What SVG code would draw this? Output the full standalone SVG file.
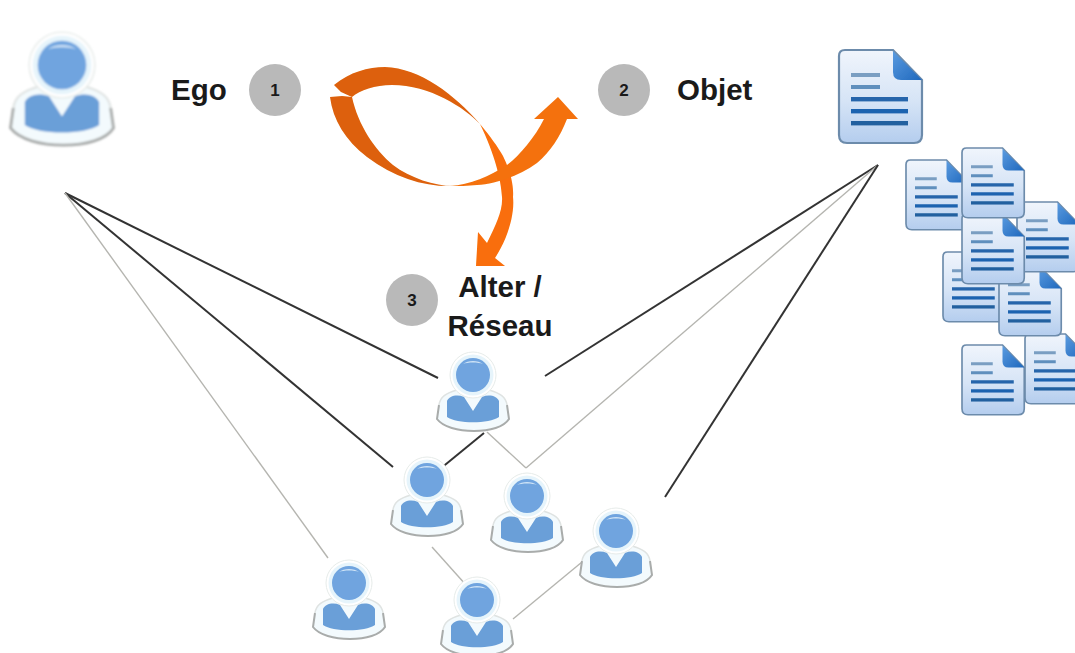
<svg xmlns="http://www.w3.org/2000/svg" width="1075" height="653" viewBox="0 0 1075 653">
<style>
.t{font-family:"Liberation Sans",Arial,sans-serif;font-weight:bold;fill:#1a1a1a}
.lbl{font-size:29.5px}
.num{font-size:17px;text-anchor:middle}
.badge{fill:#b9b9b9}
.dark{stroke:#333;stroke-width:2;fill:none}
.thin{stroke:#b5b5b0;stroke-width:1.4;fill:none}
</style>
<defs>
<filter id="soft" x="-10%" y="-10%" width="120%" height="120%"><feGaussianBlur stdDeviation="0.7"/></filter>
<filter id="soft2" x="-5%" y="-5%" width="110%" height="110%"><feGaussianBlur stdDeviation="0.4"/></filter>
<linearGradient id="paper" x1="0" y1="0" x2="0" y2="1"><stop offset="0" stop-color="#f0f5fc"/><stop offset=".55" stop-color="#d6e4f6"/><stop offset="1" stop-color="#b4cdee"/></linearGradient>
<linearGradient id="fold" x1="0" y1="0" x2="1" y2="1"><stop offset="0" stop-color="#5a9be0"/><stop offset="1" stop-color="#1f68bd"/></linearGradient>
<g id="user" filter="url(#soft)">
<path d="M-16 15C-27 18-33 22-34 30L-36 44C-30 52-15 56 1 56C17 56 31 52 36 44L34 30C33 22 27 18 16 15Z" fill="#f3fafd"/>
<path d="M-34 30L-36 44C-30 52-15 56 1 56C17 56 31 52 36 44L34 30" fill="none" stroke="#a9acab" stroke-width="2"/>
<path d="M-34 30C-33 22-27 18-16 15M34 30C33 22 27 18 16 15" fill="none" stroke="#dfe3e2" stroke-width="1.5"/>
<circle cx="0" cy="0" r="23" fill="#fff" stroke="#e6ebe9" stroke-width="1"/>
<circle cx="0" cy="0" r="20.5" fill="#e6f4fb"/>
<circle cx="0" cy="0" r="17" fill="#6fa4df"/>
<path d="M-10-11C-5-15 5-15 10-11C5-13-5-13-10-11Z" fill="#cfe3f6"/>
<path d="M-26 26C-24 21-16 19-9 22L0 36L9 22C16 19 24 21 26 26L26 42C16 49-16 49-26 42Z" fill="#6a9fd8"/>
</g>
<g id="doc" filter="url(#soft)">
<path d="M6 0H54L83 30V85Q83 93 75 93H8Q0 93 0 85V6Q0 0 6 0Z" fill="url(#paper)" stroke="#6c8bab" stroke-width="2.2"/>
<path d="M54 1V22Q54 30 62 30H83Z" fill="url(#fold)"/>
<rect x="12" y="23" width="29" height="4" fill="#7a9ec2"/>
<rect x="12" y="35" width="29" height="4" fill="#5f8fbd"/>
<rect x="12" y="47" width="57" height="4.4" fill="#2565ab"/>
<rect x="12" y="59" width="57" height="4.4" fill="#1f63b0"/>
<rect x="12" y="71" width="57" height="4.4" fill="#22609f"/>
</g>
</defs>
<g id="connectors">
<path class="dark" d="M65 193L438 378"/>
<path class="dark" d="M65 193L393 467"/>
<path class="thin" d="M65 193L328 558"/>
<path class="dark" d="M878 165L545 376"/>
<path class="thin" d="M878 165L526 468"/>
<path class="dark" d="M878 165L665 497"/>
<path class="dark" d="M484 433L440 469"/>
<path class="thin" d="M487 432L526 468"/>
<path class="thin" d="M432 547L466 585"/>
<path class="thin" d="M513 619L582 562"/>
</g>
<g id="cycle-arrows" filter="url(#soft2)">
<path fill="#f96e08" d="M480 124C490 136 498 147 503 156C510 170 514 185 513 197C515 215 507 240 495 258L505 266H476L478 232L487 243C496 225 503 210 502 197C501 180 495 155 480 124Z"/>
<path fill="#f4710a" d="M450 186C470 185 490 176 507 165C520 155 535 137 544 119H534L558 97L578 119H567C560 137 550 152 537 163C520 176 495 184 477 185C468 186 458 186 450 186Z"/>
<path fill="#dd6008" d="M334 85C350 72 368 67 385 67C420 68 455 95 480 124C465 108 430 85 392 85C375 85 360 90 352 97L341 92Z"/>
<path fill="#dd6008" d="M330 97L342 96L352 97C358 125 375 150 393 165C410 178 435 186 453 186C425 187 395 178 367 157C345 140 333 120 330 97Z"/>
</g>
<g id="ego"><use href="#user" transform="translate(62,65) scale(1.43)"/><circle class="badge" cx="275" cy="90" r="26"/><text class="t num" x="275" y="96">1</text><text class="t lbl" x="171" y="100">Ego</text></g>
<g id="objet"><use href="#doc" transform="translate(839,50)"/><circle class="badge" cx="624" cy="90" r="26"/><text class="t num" x="624" y="96">2</text><text class="t lbl" x="677" y="100">Objet</text></g>
<g id="alter"><circle class="badge" cx="412" cy="300" r="26"/><text class="t num" x="412" y="306">3</text><text class="t lbl" x="500" y="297" text-anchor="middle">Alter /</text><text class="t lbl" x="500" y="336" text-anchor="middle">Réseau</text></g>
<g id="alter-1"><use href="#user" x="473" y="375"/></g>
<g id="alter-2"><use href="#user" x="427" y="480"/></g>
<g id="alter-3"><use href="#user" x="527" y="496"/></g>
<g id="alter-4"><use href="#user" x="616" y="531"/></g>
<g id="alter-5"><use href="#user" x="349" y="583"/></g>
<g id="alter-6"><use href="#user" x="477" y="600"/></g>
<g id="documents">
<use href="#doc" transform="translate(906,160) scale(.75)"/>
<use href="#doc" transform="translate(1025,334) scale(.75)"/>
<use href="#doc" transform="translate(943,252) scale(.75)"/>
<use href="#doc" transform="translate(999,266) scale(.75)"/>
<use href="#doc" transform="translate(1017,202) scale(.75)"/>
<use href="#doc" transform="translate(962,214) scale(.75)"/>
<use href="#doc" transform="translate(962,148) scale(.75)"/>
<use href="#doc" transform="translate(962,345) scale(.75)"/>
</g>
</svg>
